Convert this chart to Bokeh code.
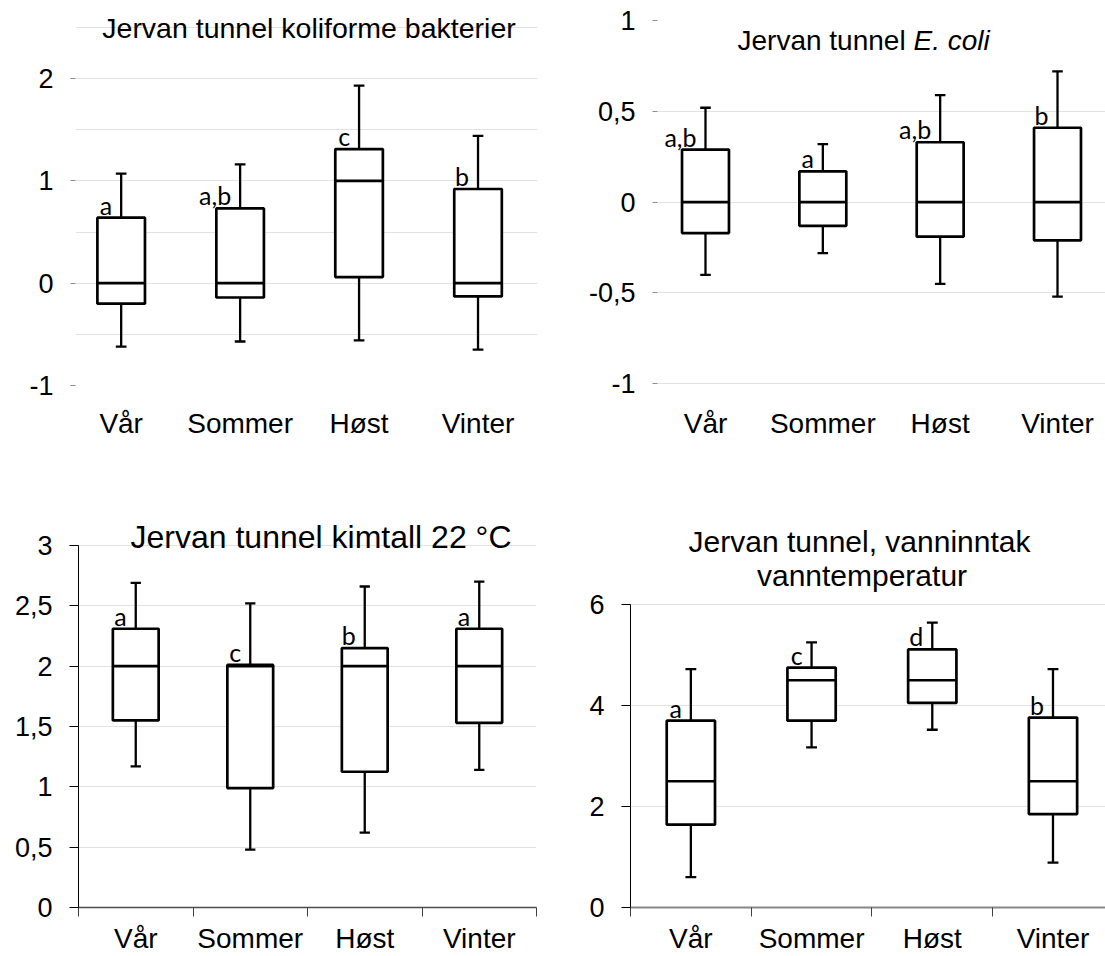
from bokeh.plotting import figure
from bokeh.layouts import column, row
from bokeh.models import FixedTicker, Label, ColumnDataSource
from bokeh.core.properties import value
from bokeh.embed import file_html
from bokeh.resources import INLINE

# ---------------- data ----------------
seasons = ["Vår", "Sommer", "Høst", "Vinter"]
positions = [1, 2, 3, 4]

koli_lower = [-0.62, -0.57, -0.56, -0.65]
koli_q1 = [-0.20, -0.14, 0.06, -0.13]
koli_med = [0.0, 0.0, 1.0, 0.0]
koli_q3 = [0.64, 0.73, 1.31, 0.92]
koli_upper = [1.07, 1.16, 1.93, 1.44]
koli_letters = ["a", "a,b", "c", "b"]

ecoli_lower = [-0.40, -0.28, -0.45, -0.52]
ecoli_q1 = [-0.17, -0.13, -0.19, -0.21]
ecoli_med = [0.0, 0.0, 0.0, 0.0]
ecoli_q3 = [0.29, 0.17, 0.33, 0.41]
ecoli_upper = [0.52, 0.32, 0.59, 0.72]
ecoli_letters = ["a,b", "a", "a,b", "b"]

kim_lower = [1.17, 0.48, 0.62, 1.14]
kim_q1 = [1.55, 0.99, 1.125, 1.53]
kim_med = [2.0, 2.0, 2.0, 2.0]
kim_q3 = [2.31, 2.01, 2.15, 2.31]
kim_upper = [2.69, 2.52, 2.66, 2.70]
kim_letters = ["a", "c", "b", "a"]

temp_lower = [0.60, 3.17, 3.52, 0.89]
temp_q1 = [1.64, 3.70, 4.05, 1.85]
temp_med = [2.5, 4.5, 4.5, 2.5]
temp_q3 = [3.70, 4.75, 5.11, 3.76]
temp_upper = [4.72, 5.25, 5.64, 4.72]
temp_letters = ["a", "c", "d", "b"]

koli_ticks = [-1, 0, 1, 2]
koli_tick_labels = ["-1", "0", "1", "2"]
koli_grid = [-1, -0.5, 0, 0.5, 1, 1.5, 2, 2.5]

ecoli_ticks = [-1, -0.5, 0, 0.5, 1]
ecoli_tick_labels = ["-1", "-0,5", "0", "0,5", "1"]
ecoli_grid = [-1, -0.5, 0, 0.5]

kim_ticks = [0, 0.5, 1, 1.5, 2, 2.5, 3]
kim_tick_labels = ["0", "0,5", "1", "1,5", "2", "2,5", "3"]
kim_grid = [0.5, 1, 1.5, 2, 2.5, 3]

temp_ticks = [0, 2, 4, 6]
temp_tick_labels = ["0", "2", "4", "6"]
temp_grid = [2, 4, 6]

FONT = "Liberation Sans"
BOX_W = 0.4
CAP_W = 0.09


def make_panel(geom, lower, q1, med, q3, upper, letters,
               ticks, tick_labels, grid, framed, xaxis_color="#808080",
               xaxis_width=1.5):
    (w, h, bl, br, bt, bb, xr, yr) = geom
    p = figure(width=w, height=h, x_range=xr, y_range=yr,
               output_backend="svg", toolbar_location=None, title=None,
               min_border_left=bl, min_border_right=br,
               min_border_top=bt, min_border_bottom=bb)
    p.outline_line_color = None
    p.background_fill_color = "white"
    p.border_fill_color = "white"

    src = ColumnDataSource(dict(
        x=positions, lower=lower, q1=q1, med=med, q3=q3, upper=upper,
        letters=letters,
        left=[x - BOX_W / 2 for x in positions],
        right=[x + BOX_W / 2 for x in positions],
        capl=[x - CAP_W / 2 for x in positions],
        capr=[x + CAP_W / 2 for x in positions],
    ))
    lw = 2.3
    p.segment("x", "q3", "x", "upper", source=src, line_color="black", line_width=lw)
    p.segment("x", "lower", "x", "q1", source=src, line_color="black", line_width=lw)
    p.segment("capl", "upper", "capr", "upper", source=src, line_color="black", line_width=lw)
    p.segment("capl", "lower", "capr", "lower", source=src, line_color="black", line_width=lw)
    p.vbar(x="x", width=BOX_W, bottom="q1", top="q3", source=src,
           fill_color="white", line_color="black", line_width=2.7)
    p.segment("left", "med", "right", "med", source=src, line_color="black", line_width=2.7)
    p.text(x="x", y="q3", text="letters", source=src, text_align="right",
           text_baseline="alphabetic", x_offset=-9, y_offset=-13,
           text_font=value("Lato"), text_font_size="25px", text_color="black")

    ya = p.yaxis[0]
    ya.ticker = FixedTicker(ticks=ticks)
    ya.bounds = (min(ticks), max(ticks))
    ya.major_label_overrides = {t: l for t, l in zip(ticks, tick_labels)}
    ya.major_label_text_font = FONT
    ya.major_label_text_font_size = "27px"
    ya.major_label_text_color = "black"
    ya.minor_tick_line_color = None
    ya.major_tick_in = 0

    xa = p.xaxis[0]
    xa.major_label_overrides = {t: l for t, l in zip(positions, seasons)}
    xa.major_label_text_font = FONT
    xa.major_label_text_font_size = "28px"
    xa.major_label_text_color = "black"
    xa.major_tick_line_color = None
    xa.major_tick_in = 0
    xa.major_tick_out = 0
    if framed:
        ya.axis_line_color = "black"
        ya.axis_line_width = 1
        ya.major_tick_out = 9
        ya.major_tick_line_color = "black"
        ya.major_label_standoff = 17
        xa.ticker = FixedTicker(ticks=positions,
                                minor_ticks=[x - 0.5 for x in positions] + [positions[-1] + 0.5])
        xa.axis_line_color = xaxis_color
        xa.axis_line_width = xaxis_width
        xa.minor_tick_out = 9
        xa.minor_tick_in = 0
        xa.minor_tick_line_color = "#404040"
        xa.minor_tick_line_width = 1
        xa.major_label_standoff = 6
    else:
        ya.axis_line_color = None
        ya.major_tick_out = 5
        ya.major_tick_line_color = "#8c8c8c"
        ya.major_label_standoff = 17
        xa.ticker = FixedTicker(ticks=positions)
        xa.axis_line_color = None
        xa.minor_tick_line_color = None
        xa.major_label_standoff = 22

    p.xgrid.visible = False
    p.ygrid.ticker = FixedTicker(ticks=grid)
    p.ygrid.grid_line_color = "#e2e2e2"
    p.ygrid.grid_line_width = 1
    return p


def title_label(p, frame, px, py, text, size, align="center", style="normal"):
    # frame = (L, R, T, B) page pixels of the frame edges
    L, R, T, B = frame
    x0, x1 = p.x_range.start, p.x_range.end
    y0, y1 = p.y_range.start, p.y_range.end
    xd = x0 + (px - L) / (R - L) * (x1 - x0)
    yd = y0 + (B - py) / (B - T) * (y1 - y0)
    p.add_layout(Label(x=xd, y=yd, text=text, text_font=FONT,
                       text_font_size=size, text_align=align,
                       text_baseline="alphabetic", text_font_style=style,
                       text_color="black"))


# geometry: width, height, border l/r/t/b, x range, y range
# top row: frames from y=12 to y=385; bottom row: frames from y=520 to y=907
g1 = (550, 480, 75, 13, 12, 95, (0.616, 4.5), (-1, 2.645))
g2 = (555, 480, 107, 0, 12, 95, (0.591, 4.409), (-1.0094, 1.0446))
g3 = (550, 476, 78, 14, 40, 49, (0.5, 4.5), (0, 3.207))
g4 = (555, 476, 80, 0, 40, 49, (0.5, 4.435), (0, 7.663))

p1 = make_panel(g1, koli_lower, koli_q1, koli_med, koli_q3, koli_upper, koli_letters,
                koli_ticks, koli_tick_labels, koli_grid, framed=False)
p2 = make_panel(g2, ecoli_lower, ecoli_q1, ecoli_med, ecoli_q3, ecoli_upper, ecoli_letters,
                ecoli_ticks, ecoli_tick_labels, ecoli_grid, framed=False)
p3 = make_panel(g3, kim_lower, kim_q1, kim_med, kim_q3, kim_upper, kim_letters,
                kim_ticks, kim_tick_labels, kim_grid, framed=True,
                xaxis_color="#4d4d4d", xaxis_width=1.5)
p4 = make_panel(g4, temp_lower, temp_q1, temp_med, temp_q3, temp_upper, temp_letters,
                temp_ticks, temp_tick_labels, temp_grid, framed=True,
                xaxis_color="#878787", xaxis_width=2)

f1 = (75, 537, 12, 385)
f2 = (657, 1105, 12, 385)
f3 = (78, 536, 520, 907)
f4 = (630, 1105, 520, 907)

title_label(p1, f1, 308.5, 27, "Jervan tunnel koliforme bakterier", "28.5px")
title_label(p2, f2, 737, 40, "Jervan tunnel ", "28px", align="left")
title_label(p2, f2, 913, 40, "E. coli", "28px", align="left", style="italic")
title_label(p3, f3, 320.5, 536, "Jervan tunnel kimtall 22 °C", "32px")
title_label(p4, f4, 859, 541, "Jervan tunnel, vanninntak", "30px")
title_label(p4, f4, 861.5, 575, "vanntemperatur", "30px")

layout = column(row(p1, p2), row(p3, p4))
open("out.html", "w").write(file_html(layout, INLINE))
